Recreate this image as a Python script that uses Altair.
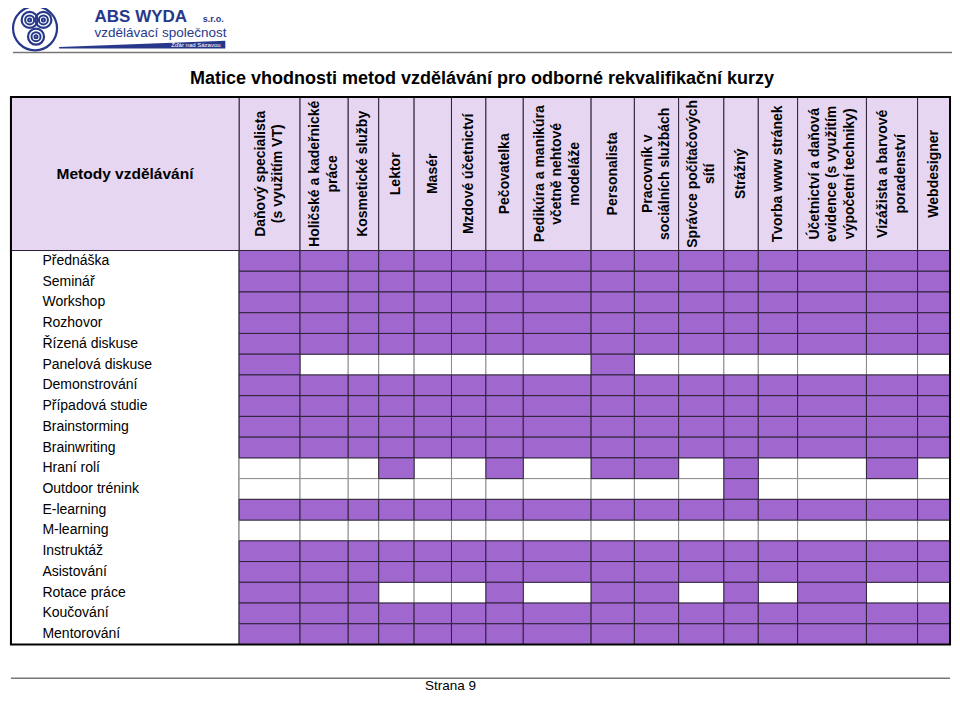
import altair as alt
import pandas as pd

# ---------------- data ----------------
methods = ["Přednáška", "Seminář", "Workshop", "Rozhovor", "Řízená diskuse",
           "Panelová diskuse", "Demonstrování", "Případová studie", "Brainstorming",
           "Brainwriting", "Hraní rolí", "Outdoor trénink", "E-learning", "M-learning",
           "Instruktáž", "Asistování", "Rotace práce", "Koučování", "Mentorování"]

professions = ["Daňový specialista\n(s využitím VT)",
               "Holičské a kadeřnické\npráce",
               "Kosmetické služby",
               "Lektor",
               "Masér",
               "Mzdové účetnictví",
               "Pečovatelka",
               "Pedikúra a manikúra\nvčetně nehtové\nmodeláže",
               "Personalista",
               "Pracovník v\nsociálních službách",
               "Správce počítačových\nsítí",
               "Strážný",
               "Tvorba www stránek",
               "Účetnictví a daňová\nevidence (s využitím\nvýpočetní techniky)",
               "Vizážista a barvové\nporadenství",
               "Webdesigner"]

# 1 = suitable (purple), 0 = not suitable (white)
suitability = [
    [1, 1, 1, 1, 1, 1, 1, 1, 1, 1, 1, 1, 1, 1, 1, 1],  # Přednáška
    [1, 1, 1, 1, 1, 1, 1, 1, 1, 1, 1, 1, 1, 1, 1, 1],  # Seminář
    [1, 1, 1, 1, 1, 1, 1, 1, 1, 1, 1, 1, 1, 1, 1, 1],  # Workshop
    [1, 1, 1, 1, 1, 1, 1, 1, 1, 1, 1, 1, 1, 1, 1, 1],  # Rozhovor
    [1, 1, 1, 1, 1, 1, 1, 1, 1, 1, 1, 1, 1, 1, 1, 1],  # Řízená diskuse
    [1, 0, 0, 0, 0, 0, 0, 0, 1, 0, 0, 0, 0, 0, 0, 0],  # Panelová diskuse
    [1, 1, 1, 1, 1, 1, 1, 1, 1, 1, 1, 1, 1, 1, 1, 1],  # Demonstrování
    [1, 1, 1, 1, 1, 1, 1, 1, 1, 1, 1, 1, 1, 1, 1, 1],  # Případová studie
    [1, 1, 1, 1, 1, 1, 1, 1, 1, 1, 1, 1, 1, 1, 1, 1],  # Brainstorming
    [1, 1, 1, 1, 1, 1, 1, 1, 1, 1, 1, 1, 1, 1, 1, 1],  # Brainwriting
    [0, 0, 0, 1, 0, 0, 1, 0, 1, 1, 0, 1, 0, 0, 1, 0],  # Hraní rolí
    [0, 0, 0, 0, 0, 0, 0, 0, 0, 0, 0, 1, 0, 0, 0, 0],  # Outdoor trénink
    [1, 1, 1, 1, 1, 1, 1, 1, 1, 1, 1, 1, 1, 1, 1, 1],  # E-learning
    [0, 0, 0, 0, 0, 0, 0, 0, 0, 0, 0, 0, 0, 0, 0, 0],  # M-learning
    [1, 1, 1, 1, 1, 1, 1, 1, 1, 1, 1, 1, 1, 1, 1, 1],  # Instruktáž
    [1, 1, 1, 1, 1, 1, 1, 1, 1, 1, 1, 1, 1, 1, 1, 1],  # Asistování
    [1, 1, 1, 0, 0, 0, 1, 0, 1, 1, 0, 1, 0, 1, 0, 0],  # Rotace práce
    [1, 1, 1, 1, 1, 1, 1, 1, 1, 1, 1, 1, 1, 1, 1, 1],  # Koučování
    [1, 1, 1, 1, 1, 1, 1, 1, 1, 1, 1, 1, 1, 1, 1, 1],  # Mentorování
]

title_text = "Matice vhodnosti metod vzdělávání pro odborné rekvalifikační kurzy"
corner_text = "Metody vzdělávání"
footer_text = "Strana 9"

# ---------------- layout (page coordinates) ----------------
col_edges = [235, 297, 346, 377, 413, 451, 486, 524, 593, 637, 682, 728, 763, 803, 873, 925, 958]
table_left, table_right = 3, 958
header_top, body_top, body_bottom = 95, 250, 648
row_h = (body_bottom - body_top) / len(methods)

PURPLE = "#a067cf"
LAVENDER = "#e6d6f2"
GRID = "#2e2238"
NAVY = "#27388a"
FONT = "Liberation Sans"
HDR_FS = 14
HDR_LH = 17.5

W, H = 944, 686
XDOM = [0, 960]
SX = W / (XDOM[1] - XDOM[0])
xs = alt.Scale(domain=XDOM, nice=False, zero=False)
ys = alt.Scale(domain=[5, 698], nice=False, zero=False, reverse=True)


def X(f):
    return alt.X(f, type="quantitative", scale=xs, axis=None)


def Y(f):
    return alt.Y(f, type="quantitative", scale=ys, axis=None)


# cells
cells = []
for i, m in enumerate(methods):
    for j, p in enumerate(professions):
        cells.append(dict(method=m, profession=p, v=suitability[i][j],
                          x0=col_edges[j], x1=col_edges[j + 1],
                          y0=body_top + i * row_h, y1=body_top + (i + 1) * row_h))
cells_df = pd.DataFrame(cells).sort_values("v", kind="stable")

cell_layer = alt.Chart(cells_df).mark_rect(strokeWidth=1).encode(
    x=X("x0"), x2=alt.X2("x1"), y=Y("y0"), y2=alt.Y2("y1"),
    fill=alt.Fill("v:N", scale=alt.Scale(domain=[1, 0], range=[PURPLE, "#ffffff"]), legend=None),
    stroke=alt.Stroke("v:N", scale=alt.Scale(domain=[1, 0], range=[GRID, "#8c8c8c"]), legend=None),
)

# header cells
hdr = []
for j, p in enumerate(professions):
    n_lines = p.count("\n") + 1
    xc = (col_edges[j] + col_edges[j + 1]) / 2
    # vega stacks extra lines to the right of the anchor: shift to centre the block
    xt = xc - (n_lines - 1) * HDR_LH / 2 / SX
    hdr.append(dict(x0=col_edges[j], x1=col_edges[j + 1], y0=header_top, y1=body_top,
                    label=p, xt=xt, yc=(header_top + body_top) / 2))
hdr.append(dict(x0=table_left, x1=col_edges[0], y0=header_top, y1=body_top,
                label="", xt=0, yc=0))
hdr_df = pd.DataFrame(hdr)

hdr_rect = alt.Chart(hdr_df).mark_rect(fill=LAVENDER, stroke=GRID, strokeWidth=1).encode(
    x=X("x0"), x2=alt.X2("x1"), y=Y("y0"), y2=alt.Y2("y1"))

hdr_text = alt.Chart(hdr_df[hdr_df.label != ""]).mark_text(
    angle=270, align="center", baseline="middle", fontWeight="bold", fontSize=HDR_FS,
    lineBreak="\n", lineHeight=HDR_LH, font=FONT, color="#000000").encode(
    x=X("xt"), y=Y("yc"), text="label:N")

corner_df = pd.DataFrame([dict(t=corner_text, x=(table_left + col_edges[0]) / 2,
                               y=(header_top + body_top) / 2)])
corner_text_layer = alt.Chart(corner_df).mark_text(
    align="center", baseline="middle", fontWeight="bold", fontSize=15.5, font=FONT,
    color="#000000").encode(x=X("x"), y=Y("y"), text="t:N")

# label column
label_col_df = pd.DataFrame([dict(x0=table_left, x1=col_edges[0], y0=body_top, y1=body_bottom)])
label_col = alt.Chart(label_col_df).mark_rect(fill="#ffffff", stroke=GRID, strokeWidth=1).encode(
    x=X("x0"), x2=alt.X2("x1"), y=Y("y0"), y2=alt.Y2("y1"))

rows_df = pd.DataFrame([dict(method=m, x=35, y=body_top + (i + 0.5) * row_h)
                        for i, m in enumerate(methods)])
row_text = alt.Chart(rows_df).mark_text(
    align="left", baseline="middle", fontSize=14, font=FONT, color="#000000").encode(
    x=X("x"), y=Y("y"), text="method:N")

# outer border
border_df = pd.DataFrame([dict(x0=table_left, x1=table_right, y0=header_top, y1=body_bottom)])
border = alt.Chart(border_df).mark_rect(fillOpacity=0, stroke="#000000", strokeWidth=2).encode(
    x=X("x0"), x2=alt.X2("x1"), y=Y("y0"), y2=alt.Y2("y1"))

# title
title_df = pd.DataFrame([dict(t=title_text, x=482, y=77)])
title_layer = alt.Chart(title_df).mark_text(
    align="center", baseline="middle", fontWeight="bold", fontSize=18, font=FONT,
    color="#000000").encode(x=X("x"), y=Y("y"), text="t:N")

# page rules (header / footer lines)
rules_df = pd.DataFrame([dict(x0=5, x1=960, y=50), dict(x0=3, x1=958, y=682)])
rules = alt.Chart(rules_df).mark_rule(color="#777777", strokeWidth=1.5).encode(
    x=X("x0"), x2=alt.X2("x1"), y=Y("y"))

footer_df = pd.DataFrame([dict(t=footer_text, x=450, y=690)])
footer = alt.Chart(footer_df).mark_text(
    align="center", baseline="middle", fontSize=13.5, font=FONT, color="#000000").encode(
    x=X("x"), y=Y("y"), text="t:N")

# logo
logo_circ_df = pd.DataFrame([
    dict(x=27.5, y=25.5, s=44 ** 2, w=2.2),
    dict(x=22, y=17, s=16 ** 2, w=2.2), dict(x=22, y=17, s=9 ** 2, w=2), dict(x=22, y=17, s=3 ** 2, w=2),
    dict(x=36, y=17, s=16 ** 2, w=2.2), dict(x=36, y=17, s=9 ** 2, w=2), dict(x=36, y=17, s=3 ** 2, w=2),
    dict(x=28.5, y=34, s=16 ** 2, w=2.2), dict(x=28.5, y=34, s=9 ** 2, w=2), dict(x=28.5, y=34, s=3 ** 2, w=2),
])
logo_circles = alt.Chart(logo_circ_df).mark_point(shape="circle", filled=False, color=NAVY, opacity=1).encode(
    x=X("x"), y=Y("y"), size=alt.Size("s:Q", scale=None),
    strokeWidth=alt.StrokeWidth("w:Q", scale=None))

logo_bar_df = pd.DataFrame([dict(x=52, y0=44.5, y1=46), dict(x=221, y0=38, y1=46)])
logo_bar = alt.Chart(logo_bar_df).mark_area(color=NAVY, opacity=1).encode(
    x=X("x"), y=Y("y0"), y2=alt.Y2("y1"))

logo_text_df = pd.DataFrame([
    dict(t="ABS  WYDA", x=88, y=19, fs=17, kind="bold"),
    dict(t="s.r.o.", x=198, y=19, fs=9, kind="bold"),
    dict(t="vzdělávací společnost", x=88, y=34.5, fs=13.5, kind="regular"),
    dict(t="Žďár nad Sázavou", x=166, y=44.5, fs=6, kind="white"),
])
logo_text_bold = alt.Chart(logo_text_df[logo_text_df.kind == "bold"]).mark_text(
    align="left", baseline="alphabetic", fontWeight="bold", font=FONT, color=NAVY).encode(
    x=X("x"), y=Y("y"), text="t:N", size=alt.Size("fs:Q", scale=None))
logo_text_reg = alt.Chart(logo_text_df[logo_text_df.kind == "regular"]).mark_text(
    align="left", baseline="alphabetic", font=FONT, color=NAVY).encode(
    x=X("x"), y=Y("y"), text="t:N", size=alt.Size("fs:Q", scale=None))
logo_text_white = alt.Chart(logo_text_df[logo_text_df.kind == "white"]).mark_text(
    align="left", baseline="alphabetic", font=FONT, color="#ffffff").encode(
    x=X("x"), y=Y("y"), text="t:N", size=alt.Size("fs:Q", scale=None))

chart = alt.layer(
    rules, logo_circles, logo_bar, logo_text_bold, logo_text_reg, logo_text_white,
    title_layer, hdr_rect, hdr_text, corner_text_layer, label_col, cell_layer, row_text,
    border, footer
).properties(
    width=W, height=H, padding=0, autosize="none", background="#ffffff"
).configure_view(stroke=None)

chart.save("out.html", embed_options={"renderer": "svg", "actions": False})
